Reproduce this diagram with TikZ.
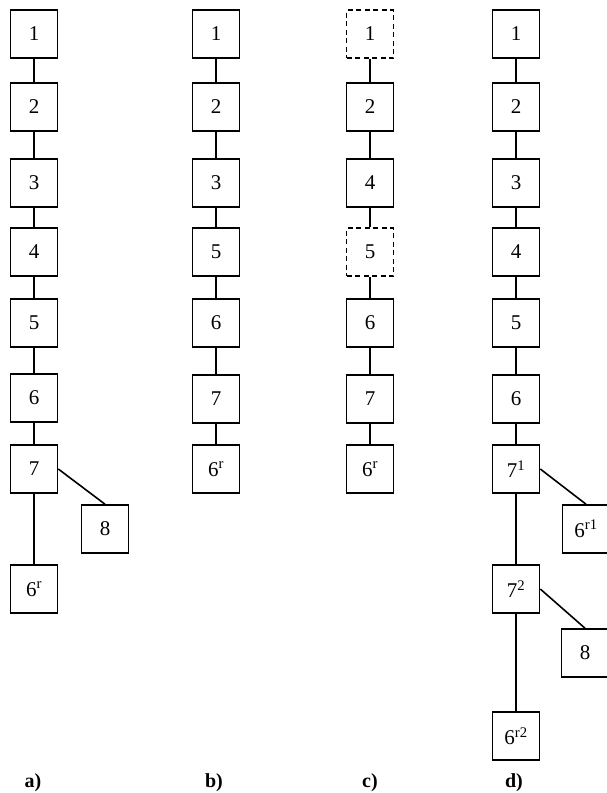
\documentclass[tikz,border=0pt]{standalone}
\usepackage{fontspec}
\setmainfont{Liberation Serif}
\begin{document}
\begin{tikzpicture}[x=1pt,y=-1pt,
  bx/.style={draw,line width=1.6pt,minimum width=47pt,minimum height=48pt,inner sep=0pt,
    font=\fontsize{21}{25}\selectfont},
  dbx/.style={bx,dash pattern=on 5pt off 3.5pt},
  ln/.style={line width=1.6pt},
  lab/.style={font=\fontsize{20}{24}\selectfont\bfseries}]
\useasboundingbox (0,0) rectangle (607,793);
% column a
\node[bx] (a1) at (34,34) {1};
\node[bx] (a2) at (34,107) {2};
\node[bx] (a3) at (34,183) {3};
\node[bx] (a4) at (34,252) {4};
\node[bx] (a5) at (34,323) {5};
\node[bx] (a6) at (34,398) {6};
\node[bx] (a7) at (34,469) {7};
\node[bx] (a8) at (105,529) {8};
\node[bx] (a6r) at (34,589) {6\textsuperscript{r}};
\draw[ln] (a1)--(a2) (a2)--(a3) (a3)--(a4) (a4)--(a5) (a5)--(a6) (a6)--(a7) (a7)--(a6r);
\draw[ln] (a7.east)--(a8.north);
\node[lab] (la) at (33,783) {a)};
% column b
\node[bx] (b1) at (216,34) {1};
\node[bx] (b2) at (216,107) {2};
\node[bx] (b3) at (216,183) {3};
\node[bx] (b5) at (216,252) {5};
\node[bx] (b6) at (216,323) {6};
\node[bx] (b7) at (216,399) {7};
\node[bx] (b6r) at (216,469) {6\textsuperscript{r}};
\draw[ln] (b1)--(b2) (b2)--(b3) (b3)--(b5) (b5)--(b6) (b6)--(b7) (b7)--(b6r);
\node[lab] (lb) at (214,783) {b)};
% column c
\node[dbx] (c1) at (370,34) {1};
\node[bx] (c2) at (370,107) {2};
\node[bx] (c4) at (370,183) {4};
\node[dbx] (c5) at (370,252) {5};
\node[bx] (c6) at (370,323) {6};
\node[bx] (c7) at (370,399) {7};
\node[bx] (c6r) at (370,469) {6\textsuperscript{r}};
\draw[ln] (c1)--(c2) (c2)--(c4) (c4)--(c5) (c5)--(c6) (c6)--(c7) (c7)--(c6r);
\node[lab] (lc) at (370,783) {c)};
% column d
\node[bx] (d1) at (516,34) {1};
\node[bx] (d2) at (516,107) {2};
\node[bx] (d3) at (516,183) {3};
\node[bx] (d4) at (516,252) {4};
\node[bx] (d5) at (516,323) {5};
\node[bx] (d6) at (516,399) {6};
\node[bx] (d71) at (516,469) {7\textsuperscript{1}};
\node[bx] (d6r1) at (586,529) {6\textsuperscript{r1}};
\node[bx] (d72) at (516,589) {7\textsuperscript{2}};
\node[bx] (d8) at (585,653) {8};
\node[bx] (d6r2) at (516,736) {6\textsuperscript{r2}};
\draw[ln] (d1)--(d2) (d2)--(d3) (d3)--(d4) (d4)--(d5) (d5)--(d6) (d6)--(d71) (d71)--(d72) (d72)--(d6r2);
\draw[ln] (d71.east)--(d6r1.north);
\draw[ln] (d72.east)--(d8.north);
\node[lab] (ld) at (514,783) {d)};
\end{tikzpicture}
\end{document}
